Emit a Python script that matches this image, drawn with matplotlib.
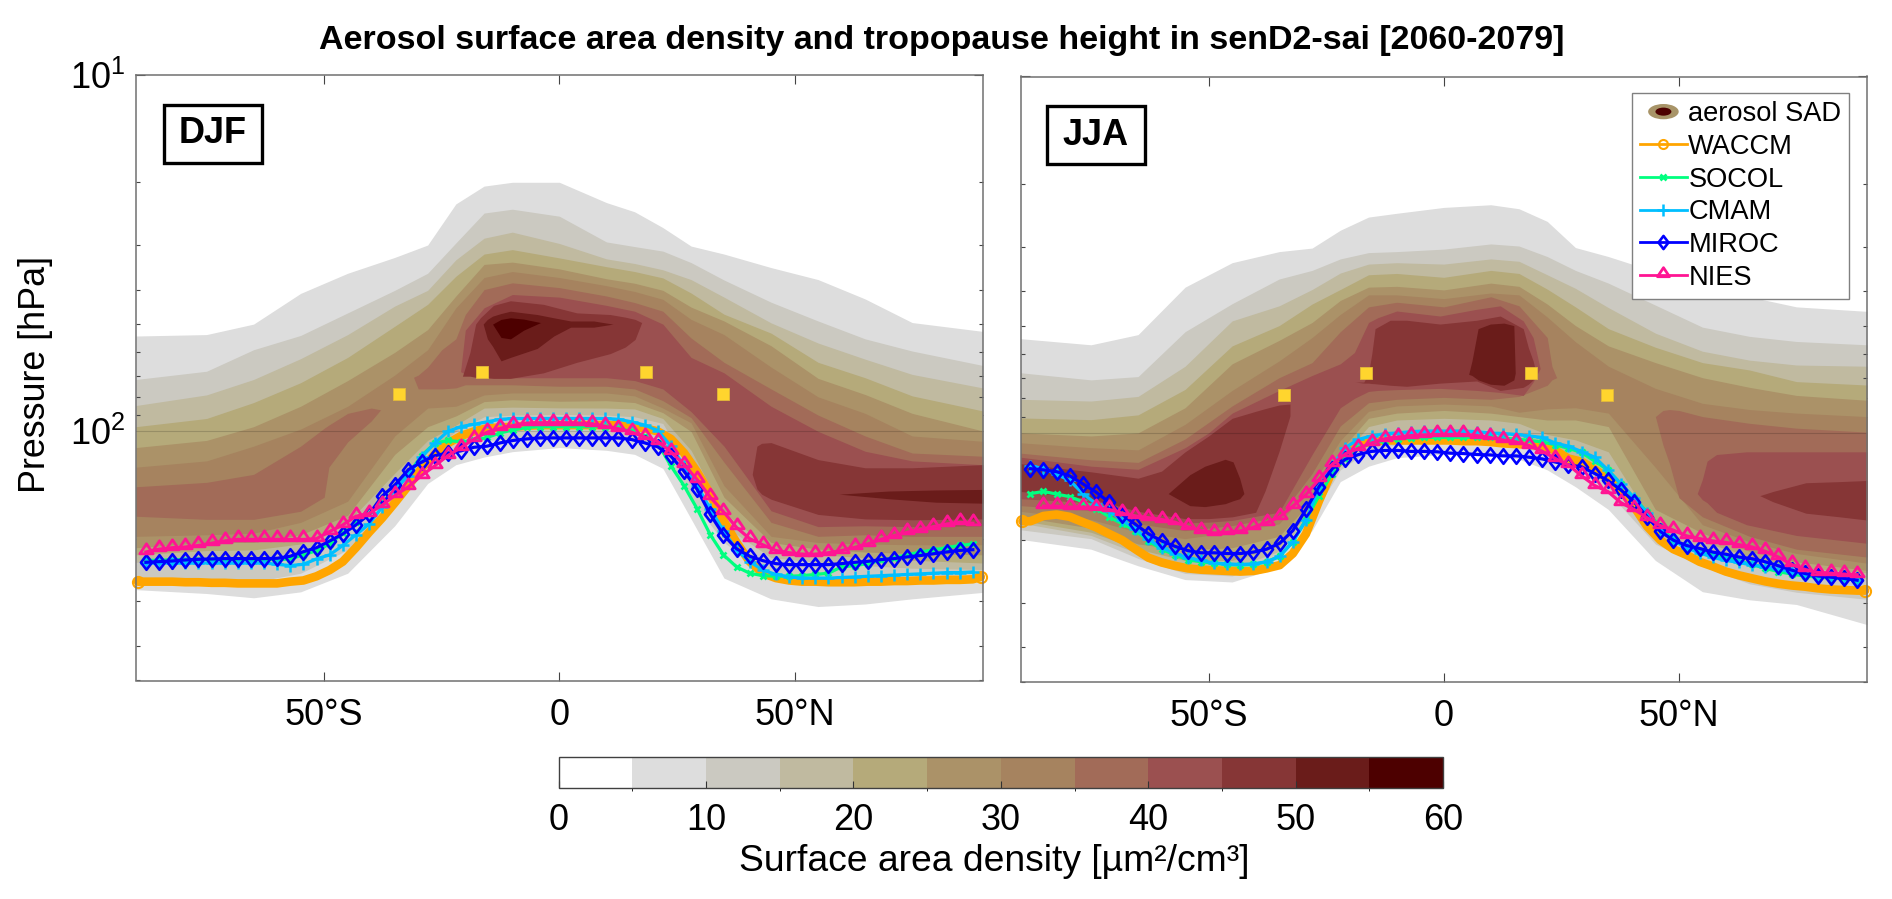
import numpy as np
import matplotlib
matplotlib.use("Agg")
import matplotlib.pyplot as plt
from matplotlib.colors import ListedColormap, BoundaryNorm
from matplotlib.colorbar import ColorbarBase
from matplotlib.lines import Line2D
from matplotlib.patches import Ellipse, Rectangle
from matplotlib.legend_handler import HandlerBase
from matplotlib.path import Path

plt.rcParams['font.family'] = ['Liberation Sans', 'DejaVu Sans']
plt.rcParams['mathtext.fontset'] = 'custom'
plt.rcParams['mathtext.rm'] = 'Liberation Sans'
plt.rcParams['mathtext.default'] = 'regular'

W, H = 1892, 899
TITLE = "Aerosol surface area density and tropopause height in senD2-sai [2060-2079]"
LEVELS = [0, 5, 10, 15, 20, 25, 30, 35, 40, 45, 50, 55, 60]
BAND_COLORS = ['#ffffff', '#dddddd', '#cbc9c1', '#c0baa0', '#b5aa7a', '#ab9268',
               '#a6835f', '#a26b58', '#9b5050', '#863636', '#6a1c1a', '#4d0000']
LAT = [-90, -75, -65, -55, -45, -35, -28, -22, -16, -10, 0, 10, 16, 22, 28, 35, 45, 55, 65, 75, 90]

# ---------- DJF: isolines of surface area density, hPa ----------
djf_top_05 = [54, 53.5, 50, 41, 36, 32.5, 30, 23, 20.5, 20, 20, 22.8, 24.2, 26.8, 30.2, 31.8, 34.7, 37.5, 42.5, 49.5, 52.4]
djf_bot_05 = [278, 285, 293, 282, 250, 184, 140, 124, 118, 114, 111, 113, 116, 127, 176, 258, 295, 310, 305, 295, 283]
djf_top_10 = [71.5, 67.8, 59, 53.8, 46.5, 40.2, 36, 29.6, 24.4, 23.8, 24.9, 29.4, 30.3, 31.2, 33.6, 37.6, 43.4, 49, 55, 59.5, 65.3]
djf_bot_10 = [262, 265, 265, 250, 215, 158, 125, 110, 106, 105, 105, 105, 106, 112, 155, 205, 255, 270, 268, 263, 258]
djf_top_15 = [84.6, 79, 71.5, 62.5, 53.5, 44.5, 40.2, 33, 28.7, 27.6, 29.7, 32.8, 33.8, 35.2, 37.5, 42, 49.6, 56.5, 62.7, 69.2, 75.5]
djf_bot_15 = [233, 228, 226, 218, 188, 144, 115, 100, 91, 90, 89.6, 90, 91, 95, 130, 184, 226, 233, 238, 242, 244]
djf_top_20 = [97, 92, 83, 73, 62, 50.7, 44, 36.7, 31.8, 30.9, 32.6, 34.5, 35.6, 37.1, 40.9, 46.9, 53, 64, 70.7, 79.5, 87.6]
djf_bot_20 = [222, 216, 215, 207, 180, 131, 106, 96, 86, 85.5, 85.9, 86, 86.5, 92, 113, 169, 214, 222, 226, 230, 234]
djf_top_25 = [111, 106, 97, 85, 72, 60, 51.8, 41.7, 34, 33.5, 35, 37.3, 38.4, 40.2, 44.8, 49, 57.5, 71, 78.8, 89, 99.7]
djf_bot_25 = [212, 205, 205, 195, 172, 116, 97, 90.5, 82.5, 81.5, 82.3, 82, 83, 88.6, 100, 153, 205, 214, 218, 220, 222]
djf_top_30 = [126, 121, 110, 98.5, 85, 69.5, 59, 45, 37, 35.6, 37, 39, 40.5, 42.6, 48.5, 53.5, 66, 80, 89, 103, 106.6]
djf_bot_30 = [197, 195, 193, 180, 157, 103, 86, 85, 79, 78, 78, 78, 79.5, 86, 94.6, 142, 197, 205, 207, 208, 208]
djf_lat_35a = [-90, -75, -65, -55, -50, -49, -45, -40, -38]
djf_top_35a = [143, 139, 132, 110, 98, 96, 89, 86, 87]
djf_bot_35a = [173, 176.5, 176.5, 167.5, 153, 126, 107, 93.5, 87]
djf_lat_35b = [-31, -30, -28, -25, -22, -20, -16, -10, 0, 10, 16, 22, 28, 35, 45, 55, 65, 75, 90]
djf_top_35b = [70.5, 69.5, 66, 59, 55, 47, 40, 38.3, 39.5, 41.7, 43.5, 46, 54.7, 64, 76, 90, 103, 115, 117.4]
djf_bot_35b = [70.5, 76, 76, 76, 75.5, 74, 74, 74, 74.7, 74.7, 76, 82, 91.5, 122, 180, 197, 195, 197, 197]
djf_lat_40 = [-21, -20, -16, -10, 0, 10, 16, 22, 28, 35, 45, 55, 65, 75, 90]
djf_top_40 = [68, 52, 45, 41.3, 42, 44.3, 46, 50, 62, 68.5, 85, 100, 113.7, 121, 124]
djf_bot_40 = [68, 69, 70, 70.7, 70.7, 70.7, 72, 76, 88, 110, 167, 185, 184, 185, 184]
djf_lat_45a = [-20.6, -19, -17.8, -16.8, -14, -10.4, -3.4, 3.7, 10.8, 14, 16.1, 17.5]
djf_top_45a = [70, 60, 50, 48, 44.3, 43, 44, 46.5, 47, 47.8, 48.5, 49.5]
djf_bot_45a = [70, 70, 70.5, 70.5, 71, 71, 68.5, 64, 60.5, 58, 55.2, 49.5]
djf_lat_45b = [41, 42, 43, 45, 55, 65, 75, 90]
djf_top_45b = [132, 110, 108, 107.5, 120, 126.5, 126.5, 124]
djf_bot_45b = [132, 145, 150, 155, 171, 176, 177, 176]
djf_lat_50a = [-16.2, -15.3, -14.2, -12.4, -10.4, -4.7, -1.2, 2.4, 7.3, 11.4]
djf_top_50a = [50, 48.5, 47.5, 46.7, 46, 47, 48, 49, 49, 50]
djf_bot_50a = [50, 55, 57.7, 63.4, 62, 58.5, 54, 51, 51, 50]
djf_lat_50b = [59.5, 70, 80, 90]
djf_top_50b = [150, 147, 146, 145.5]
djf_bot_50b = [150, 154.5, 158, 159]
djf_lat_55 = [-14.2, -12.4, -10.4, -7.6, -4]
djf_top_55 = [50, 48.5, 48, 48.4, 49.5]
djf_bot_55 = [50, 54.5, 55, 52, 49.5]

# ---------- JJA: isolines of surface area density, hPa ----------
jja_top_05 = [54.4, 56.6, 53, 39, 33.3, 31, 30.3, 27, 24.8, 24.2, 23.3, 22.9, 23.5, 25.5, 30.2, 32, 35.3, 38, 41.5, 44.3, 45.6]
jja_bot_05 = [199, 212, 236, 258, 262, 238, 188, 137, 124, 117.4, 114.8, 114.8, 118.6, 127, 141.6, 164, 228, 279, 294, 303, 345]
jja_top_10 = [67.8, 71, 69.5, 52, 43.4, 37, 35, 32.5, 31.2, 31, 30.5, 29.5, 29.9, 32, 35, 38, 43.8, 50.5, 53.6, 55.4, 56.6]
jja_bot_10 = [187, 198, 225, 248, 252, 225, 172, 127, 112, 108, 106, 106, 108, 116, 124, 147, 205, 237, 265, 280, 293]
jja_top_15 = [80.5, 81.4, 79, 65, 48.5, 44, 39.6, 35.6, 33.6, 33.3, 33.6, 32.5, 33, 36, 39.3, 44.5, 52.5, 59, 62.5, 64.5, 65]
jja_bot_15 = [179, 194, 218, 238, 240, 215, 167, 122, 105, 100, 98, 98, 103, 110, 118, 133, 195, 212, 232, 245, 257]
jja_top_20 = [90.8, 91.8, 89, 75.5, 57, 50, 43.5, 39.6, 36, 35.7, 36.6, 35, 35.7, 39.5, 44.3, 51, 57.5, 63.5, 66.6, 71.8, 73.4]
jja_bot_20 = [176, 190, 212, 228, 228, 208, 163, 118, 96, 92, 91, 92, 94, 101, 104.6, 113, 183, 202, 222, 238, 247]
jja_top_25 = [100, 102, 100, 85, 64, 55, 49, 42.5, 39, 38.8, 39.7, 38, 38.8, 43.5, 50, 57, 63.5, 70, 74.5, 78.5, 81]
jja_bot_25 = [172, 185, 205, 213, 210, 195, 155, 112, 91, 88, 86.5, 88, 90, 92, 92, 96, 164, 191, 215, 230, 243]
jja_top_30 = [106.6, 110, 111.6, 94.6, 76, 62.8, 54, 46.5, 41, 41, 42, 40.5, 41, 47.3, 55.5, 65, 75, 82.6, 86, 88, 90]
jja_bot_30 = [166, 175, 190, 198, 190, 180, 140, 105, 87, 84, 83, 84, 87.5, 85.6, 85, 88, 125, 181, 202, 218, 232]
jja_lat_35a = [-90, -75, -65, -55, -45, -35, -28, -22, -16, -10, 0, 10, 16, 22, 23, 24]
jja_top_35a = [114, 119, 121, 104, 84, 70, 63.5, 52, 44.3, 43, 44.3, 41.5, 44, 54, 65, 70]
jja_bot_35a = [160, 165, 180, 188, 182, 172, 130, 95.6, 82.3, 80.5, 79.5, 80.5, 79, 73.5, 71, 70]
jja_lat_35b = [45, 46.6, 48, 50, 55, 65, 75, 90]
jja_top_35b = [90, 86.5, 86, 86.5, 90, 94, 97, 99.5]
jja_bot_35b = [90, 108, 122, 152, 172, 195, 212, 223]
jja_lat_40a = [-90, -75, -65, -55, -50, -45, -35, -28, -22, -19, -16, -14, -10, -0.8, 7, 12, 16.9, 19, 20.5]
jja_top_40a = [117, 124, 126.5, 110, 100, 88, 76, 69, 64, 59.5, 49, 47.5, 45.5, 47, 45, 44, 48.5, 54, 66]
jja_bot_40a = [153, 157, 172, 179, 178, 176, 167, 115, 85, 80, 76.5, 76, 75.6, 75, 76, 77, 78.5, 72, 66]
jja_lat_40b = [53.9, 55, 56, 58, 64.4, 75, 90]
jja_top_40b = [148, 135, 120, 115, 113, 113, 113]
jja_bot_40b = [148, 154, 157, 167, 181, 194, 204]
jja_lat_45a = [-90, -75, -65, -60, -55, -50, -45, -40, -38, -35, -32.7]
jja_top_45a = [122, 128.6, 134, 128, 113, 102, 91, 87, 85.5, 83.5, 83]
jja_bot_45a = [146, 153, 166, 170, 174, 174, 172, 167, 145.5, 112.5, 89.6]
jja_lat_45b = [-18.8, -17, -16, -15.3, -14.6, -11.4, -7.9, -0.8, 7, 12, 16.9, 18, 19, 19.7]
jja_top_45b = [72, 72, 68, 60, 51, 48.3, 48.3, 49.5, 48.3, 47, 51, 57.7, 62.8, 68.5]
jja_bot_45b = [72, 72.5, 72.5, 72.7, 72.8, 73.5, 74, 72.5, 71.5, 76, 74.5, 73, 71, 68.5]
jja_lat_45c = [67.2, 70, 77, 84.2, 90]
jja_top_45c = [150, 146, 138, 137, 136]
jja_bot_45c = [150, 156, 168, 172, 175.6]
jja_lat_50a = [-58.6, -54, -50.8, -46.5, -44.8, -43.4, -42.5]
jja_top_50a = [148, 131, 124, 118.6, 120.6, 134, 148]
jja_bot_50a = [148, 160, 161, 158, 155, 153, 148]
jja_lat_50b = [5.3, 6, 7.3, 9.9, 12.8, 14.9, 15.2]
jja_top_50b = [68.5, 62.8, 51, 49.5, 49.2, 50, 68]
jja_bot_50b = [68.5, 69, 71, 73, 73.5, 71, 68]

# ---------- tropopause pressure, hPa, on the 64-point model latitudes ----------
MODEL_LAT = np.linspace(-87.9, 87.9, 64)
WACCM_LAT = np.concatenate(([-89.6], MODEL_LAT, [89.6]))

djf_waccm = [264, 264, 264, 264, 265, 265, 266, 266, 267, 267, 267, 267, 264, 262, 255, 245, 232, 212, 192, 175, 158, 142, 127, 116, 108, 103, 100,
             98, 97.5, 97, 96.5, 96, 96, 96, 96, 96, 96, 96, 97, 98, 100, 105, 115, 130, 150, 178, 205, 232, 250, 258, 262, 264, 264, 265, 265,
             265, 264, 264, 263, 263, 262, 262, 261, 261, 260, 256]
djf_socol = [230, 230, 229, 229, 229, 229, 229, 229, 229, 229, 229, 228, 222, 216, 207, 193, 180, 170, 158, 146, 132, 117, 108, 106, 107,
             106, 104, 101, 99, 97.5, 97, 97, 97, 97, 97, 97, 98, 100, 103, 108, 125, 142, 165, 195, 222, 240, 250, 254, 255, 255, 254, 252, 250,
             240, 238, 235, 230, 226, 222, 218, 215, 212, 209, 207]
djf_cmam = [234, 234, 234, 234, 234, 234, 234, 234, 234, 234, 236, 238, 236, 228, 222, 209, 195, 182, 163, 145, 133, 118, 108, 100, 97,
            95.5, 94, 92.5, 92, 92, 92, 92, 92, 92, 92, 92, 92.5, 94, 96, 99.5, 110, 125, 142, 165, 190, 215, 232, 245, 252, 256, 258, 258, 258,
            257, 256, 255, 254, 253, 252, 251, 250, 249, 249, 248]
djf_miroc = [233, 232, 231, 229.5, 228.5, 228, 227.5, 227.5, 227.5, 227.5, 227, 224, 217.6, 212, 203, 194, 183, 171, 152, 141, 128, 122, 117, 115, 113.4,
             110.8, 110, 107.7, 106, 105, 104.3, 104.3, 104.3, 104.3, 104.3, 104.3, 104.3, 105.4, 107.7, 110.5, 117.4, 129.3, 145.5, 171, 195, 213.5, 224, 230.5, 235, 236.5, 236.5, 236.5, 236.5,
             235, 233, 231.5, 229, 227.5, 225, 223, 220.5, 218, 215.7, 214.8]
djf_nies = [218, 214, 212, 211, 209, 206, 203, 201, 201, 201, 201, 201, 201, 200, 191, 183, 173, 170, 161, 151, 143, 133, 125, 117, 111,
            105, 100.5, 98, 96.2, 94.8, 94.6, 94.6, 94.6, 94.8, 95.2, 96.8, 98.3, 100.5, 103.7, 106.8, 114, 124, 136.6, 153, 168, 186, 200, 208, 216, 219, 221, 221, 219,
            216, 211.5, 207, 201, 196, 192, 188.5, 185, 182, 180, 181]

jja_waccm = [177, 177, 171, 169.5, 172, 178, 184, 192, 200, 212, 224, 231, 236, 240, 242,
             243, 244, 245, 244, 240, 235, 218, 192, 155, 128, 114, 108, 106, 105,
             105, 105, 105, 105, 105, 105.5, 105.5, 106, 107, 107.5, 108, 109, 112,
             118, 120.5, 126.5, 134.5, 144.6, 161, 183, 200, 212, 220, 230, 237, 245, 251, 256, 261, 265, 268, 270, 273, 275, 276, 277, 277]
jja_socol = [148, 146, 148.5, 151, 156, 163, 172, 180, 188, 201, 212, 220, 227, 230,
             232, 234, 235, 234, 230, 222, 202, 175, 150, 130, 118, 110.5, 107, 105.4,
             104, 103.5, 103, 103, 103, 103, 103, 103, 103.5, 104, 105, 106, 108,
             110.5, 113.5, 120, 127, 139, 152, 167, 183, 200, 210, 216, 220, 223.5, 229, 234, 240, 245, 249, 252, 254, 255.5, 256, 259]
jja_cmam = [123.6, 126, 130.7, 136, 148, 158, 165.5, 176, 186, 199, 210, 218, 224, 228,
            232, 233, 234, 233, 230, 222, 202, 176, 142, 123.6, 110, 104.3, 102, 100.5,
            100, 99.2, 98.8, 98.8, 98.8, 98.8, 99.2, 100, 100.4, 101, 102, 103, 106.8,
            109, 112.8, 117, 127, 139, 152, 168, 187.5, 200, 210, 217, 223.5, 228, 231, 235, 237.5, 241.5, 245, 249, 252, 254, 256, 258]
jja_miroc = [126, 127, 128.5, 132, 139, 146.6, 156.5, 169.5, 180.5, 192, 201, 208, 214, 217,
             217, 218, 218, 216, 212, 204, 188, 164, 141.5, 126, 118.6, 115, 112.7, 112,
             112, 112.7, 112.7, 113, 114, 114.3, 115, 115.3, 116, 116, 117, 118.3, 120.7,
             123, 124.5, 130, 136, 144.6, 156, 172, 189, 200, 207, 211, 216, 219, 223, 225.5, 230, 236, 242.6, 248, 252, 254, 256, 259]
jja_nies = [np.nan, 160.5, 160.5, 161.5, 161.5, 162, 164, 168, 171, 173, 175, 178, 183.5, 188,
            191, 190, 188.5, 184, 178.5, 172, 160.5, 149, 135, 122.5, 114.5, 110.5, 106.7, 104,
            102.7, 101.7, 101.3, 101, 101, 101, 101.7, 103, 104.7, 106, 108.6, 112.6, 118,
            123, 132, 140.5, 146, 157, 164, 173, 182, 187.5, 194.5, 198, 201, 203, 206, 209, 215, 223, 234, 241.5, 246.5, 247.5, 249, 250]

# maximum-of-aerosol reference squares
square_lat = [-34, -16.5, 18.5, 34.7]
square_p = [78.5, 68, 68, 78.5]

MODEL_NAMES = ['WACCM', 'SOCOL', 'CMAM', 'MIROC', 'NIES']
MODEL_COLORS = ['#ffa500', '#00ff7f', '#00bfff', '#0000ff', '#ff1493']
DIAMOND = Path([(0, 1), (0.76, 0), (0, -1), (-0.76, 0), (0, 1)], closed=True)
TRIANGLE = Path([(-1, -0.2), (1, -0.2), (0, 1.3), (-1, -0.2)], closed=True)
MARKERS = [dict(marker='o', ms=8, mfc='none', mew=1.5),
           dict(marker='x', ms=5, mew=1.9),
           dict(marker='+', ms=9, mew=1.8),
           dict(marker=DIAMOND, ms=10.5, mfc='none', mew=1.9),
           dict(marker=TRIANGLE, ms=12.5, mfc='none', mew=2.0)]


def band(ax, lat, top, bot, level):
    ax.fill_between(lat, top, bot, color=BAND_COLORS[LEVELS.index(level)], lw=0, zorder=level / 10)


def finish_axes(ax, label, box_left_px, left_px, width_px):
    ax.set_xscale('linear')
    ax.set_yscale('log')
    ax.set_xlim(-90, 90)
    ax.set_ylim(500, 10)
    ax.set_xticks([-50, 0, 50], ['50°S', '0', '50°N'])
    ax.set_yticks([10, 100])
    ax.tick_params(axis='both', which='major', direction='in', length=6.5, width=0.8,
                   top=True, right=True, labelsize=26, color='#444444', pad=12.5)
    ax.tick_params(axis='y', which='minor', direction='in', length=3, width=0.8,
                   right=True, left=True, color='#444444')
    ax.tick_params(axis='y', which='major', pad=8)
    ax.yaxis.set_minor_formatter(matplotlib.ticker.NullFormatter())
    for s in ax.spines.values():
        s.set_color('#707070')
        s.set_linewidth(1.1)
        s.set_zorder(30)
    ax.axhline(100, color='#000000', alpha=0.16, lw=0.8, zorder=7)
    x0 = (box_left_px - left_px) / width_px
    wbox = 98 / width_px
    ax.add_patch(Rectangle((x0, 0.8547), wbox, 0.0958, transform=ax.transAxes, fc='white',
                           ec='black', lw=2.4, zorder=25))
    ax.text(x0 + wbox / 2, 0.8547 + 0.0958 / 2, label, transform=ax.transAxes, ha='center',
            va='center', fontsize=26, fontweight='bold', zorder=26)


def draw_models(ax, series):
    for i, (vals, name, col, mk) in enumerate(zip(series, MODEL_NAMES, MODEL_COLORS, MARKERS)):
        lat = WACCM_LAT if name == 'WACCM' else MODEL_LAT
        if name == 'WACCM':
            ax.plot(lat, vals, color=col, lw=6.2, solid_capstyle='round', zorder=10, clip_on=False)
            ax.plot(lat, vals, color=col, lw=0, markevery=[0, len(lat) - 1], zorder=10.5, clip_on=False, **mk)
        else:
            ax.plot(lat, vals, color=col, lw=2.3, zorder=10 + i, **mk)


class EllipseHandler(HandlerBase):
    def create_artists(self, legend, orig, xd, yd, width, height, fontsize, trans):
        cx, cy = width / 2 - xd, height / 2 - yd
        outer = Ellipse((cx, cy), 22, 11, fc='#a89468', ec='none', transform=trans)
        inner = Ellipse((cx, cy), 11.5, 5.8, fc='#4d0000', ec='none', transform=trans)
        return [outer, inner]


fig = plt.figure(figsize=(W / 100, H / 100), dpi=100)
ax_l = fig.add_axes([136 / W, 1 - 680.5 / H, 846.7 / W, 605.5 / H])
ax_r = fig.add_axes([1020.5 / W, 1 - 682 / H, 846.5 / W, 605.5 / H])

for lvl, t, b in [(5, djf_top_05, djf_bot_05), (10, djf_top_10, djf_bot_10), (15, djf_top_15, djf_bot_15),
                  (20, djf_top_20, djf_bot_20), (25, djf_top_25, djf_bot_25), (30, djf_top_30, djf_bot_30)]:
    band(ax_l, LAT, t, b, lvl)
band(ax_l, djf_lat_35a, djf_top_35a, djf_bot_35a, 35)
band(ax_l, djf_lat_35b, djf_top_35b, djf_bot_35b, 35)
band(ax_l, djf_lat_40, djf_top_40, djf_bot_40, 40)
band(ax_l, djf_lat_45a, djf_top_45a, djf_bot_45a, 45)
band(ax_l, djf_lat_45b, djf_top_45b, djf_bot_45b, 45)
band(ax_l, djf_lat_50a, djf_top_50a, djf_bot_50a, 50)
band(ax_l, djf_lat_50b, djf_top_50b, djf_bot_50b, 50)
band(ax_l, djf_lat_55, djf_top_55, djf_bot_55, 55)

for lvl, t, b in [(5, jja_top_05, jja_bot_05), (10, jja_top_10, jja_bot_10), (15, jja_top_15, jja_bot_15),
                  (20, jja_top_20, jja_bot_20), (25, jja_top_25, jja_bot_25), (30, jja_top_30, jja_bot_30)]:
    band(ax_r, LAT, t, b, lvl)
band(ax_r, jja_lat_35a, jja_top_35a, jja_bot_35a, 35)
band(ax_r, jja_lat_35b, jja_top_35b, jja_bot_35b, 35)
band(ax_r, jja_lat_40a, jja_top_40a, jja_bot_40a, 40)
band(ax_r, jja_lat_40b, jja_top_40b, jja_bot_40b, 40)
band(ax_r, jja_lat_45a, jja_top_45a, jja_bot_45a, 45)
band(ax_r, jja_lat_45b, jja_top_45b, jja_bot_45b, 45)
band(ax_r, jja_lat_45c, jja_top_45c, jja_bot_45c, 45)
band(ax_r, jja_lat_50a, jja_top_50a, jja_bot_50a, 50)
band(ax_r, jja_lat_50b, jja_top_50b, jja_bot_50b, 50)

draw_models(ax_l, [djf_waccm, djf_socol, djf_cmam, djf_miroc, djf_nies])
draw_models(ax_r, [jja_waccm, jja_socol, jja_cmam, jja_miroc, jja_nies])
for ax in (ax_l, ax_r):
    ax.plot(square_lat, square_p, ls='none', marker='s', ms=9, mfc='#ffd52e', mec='#e3b93a', mew=0.6, zorder=20)

finish_axes(ax_l, 'DJF', 164, 136, 846.7)
finish_axes(ax_r, 'JJA', 1046.7, 1020.5, 846.5)
ax_l.set_yticklabels(['$10^{1}$', '$10^{2}$'])
ax_r.tick_params(axis='y', which='both', labelleft=False)
ax_l.set_ylabel('Pressure [hPa]', fontsize=25.8, labelpad=12, y=0.506)

handles = [Ellipse((0, 0), 1, 1)]
labels = ['aerosol SAD'] + MODEL_NAMES
for col, mk in zip(MODEL_COLORS, MARKERS):
    mk2 = dict(mk)
    mk2['ms'] = mk['ms'] * 0.9 if mk['marker'] != 'o' else 6.5
    handles.append(Line2D([], [], color=col, lw=2.0, **mk2))
leg = fig.legend(handles, labels, handler_map={Ellipse: EllipseHandler()},
                 loc='upper left', bbox_to_anchor=(1631.7 / W, 1 - 93 / H), bbox_transform=fig.transFigure,
                 fontsize=19.6, frameon=True, fancybox=False, framealpha=1, edgecolor='#808080',
                 handlelength=1.73, handletextpad=0.05, labelspacing=0.245, borderpad=0.30, borderaxespad=0)
leg.get_frame().set_linewidth(1.0)
leg.set_zorder(40)

fig.text(942 / W, 1 - 40 / H, TITLE, ha='center', va='center', fontsize=24.5, fontweight='bold')

cax = fig.add_axes([558.7 / W, 1 - 788 / H, 884.3 / W, 31.5 / H])
cmap = ListedColormap(BAND_COLORS)
norm = BoundaryNorm(LEVELS, cmap.N)
cb = ColorbarBase(cax, cmap=cmap, norm=norm, orientation='horizontal', ticks=LEVELS[::2], drawedges=False)
cb.ax.tick_params(labelsize=26, length=5, width=0.8, direction='in', color='#333333', pad=11)
cb.outline.set_edgecolor('#404040')
cb.outline.set_linewidth(1.0)
cb.set_label('Surface area density [µm²/cm³]', fontsize=26.8, labelpad=4, x=0.493)

fig.savefig('out.png', dpi=100, facecolor='white')
